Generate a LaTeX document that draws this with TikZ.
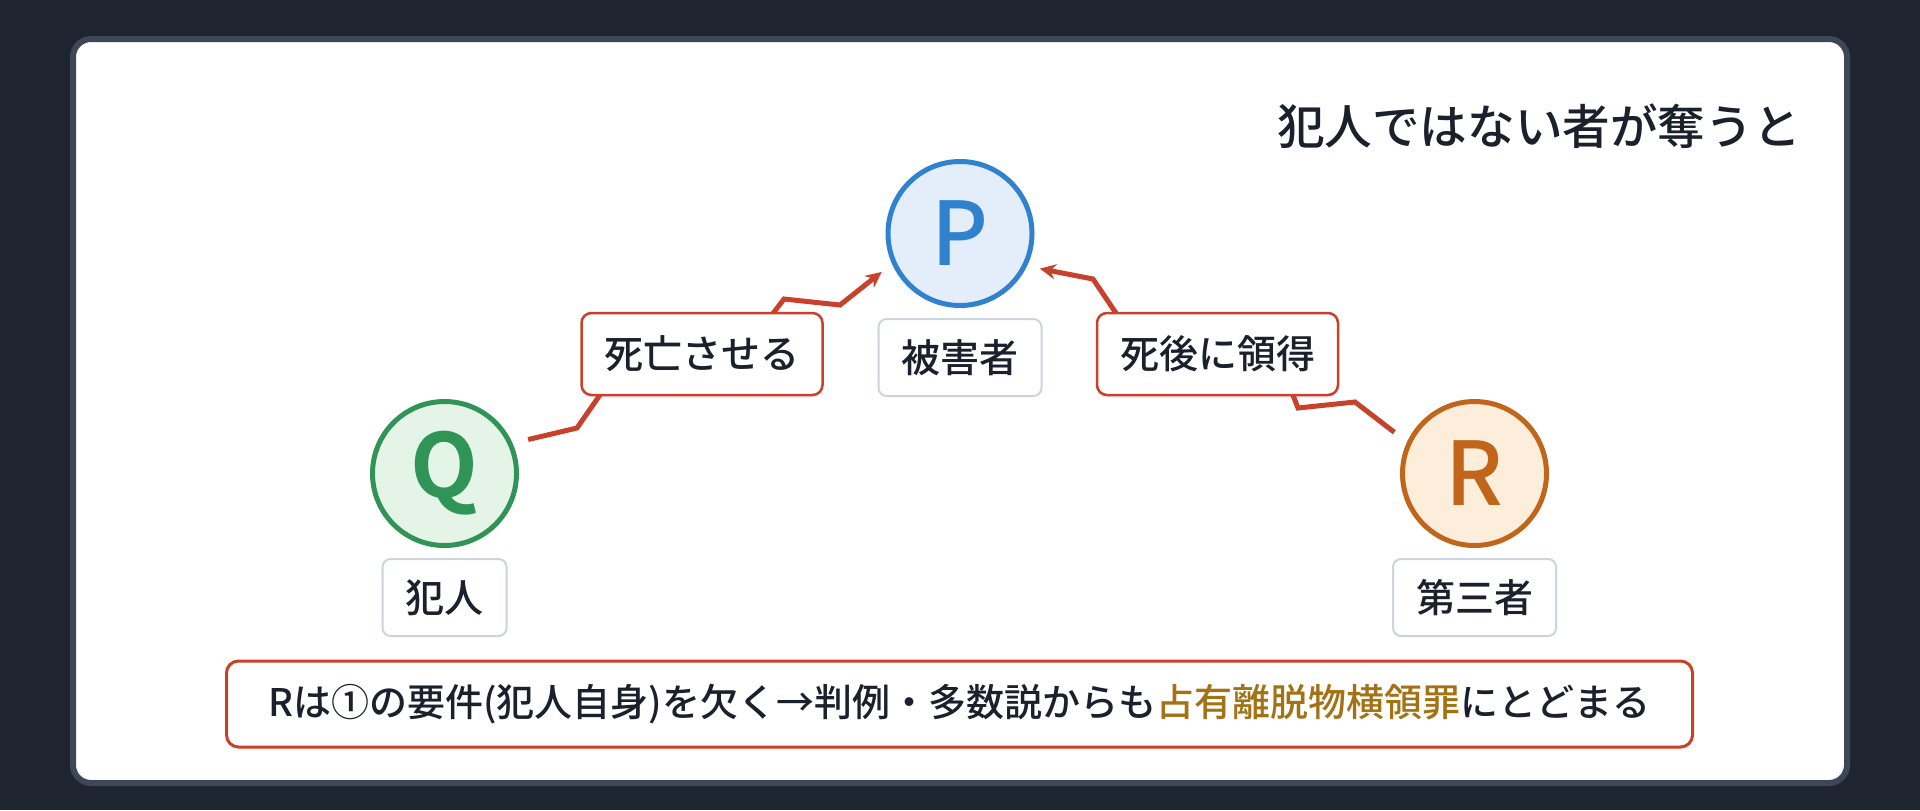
\documentclass[tikz,border=0pt]{standalone}
\usepackage{fontspec}
\setmainfont{Noto Sans CJK JP}[UprightFont=* Medium, BoldFont=* Bold]
\usetikzlibrary{positioning,arrows.meta,shadows}

\definecolor{backdrop}{HTML}{1E2530}
\definecolor{cardedge}{HTML}{3D4757}
\definecolor{ink}{HTML}{1A202C}
\definecolor{pblue}{HTML}{3182CE}
\definecolor{pbluefill}{HTML}{E3EEFA}
\definecolor{qgreen}{HTML}{2F9455}
\definecolor{qgreenfill}{HTML}{E4F5E8}
\definecolor{rorange}{HTML}{C0651A}
\definecolor{rorangefill}{HTML}{FDEEDC}
\definecolor{actred}{HTML}{C8412B}
\definecolor{rolegray}{HTML}{CBD5E0}
\definecolor{crime}{HTML}{A37215}

\tikzstyle{victim} = [circle, minimum size=72pt, inner sep=0pt, line width=2.5pt, draw=pblue, fill=pbluefill, text=pblue, font=\fontsize{44pt}{44pt}\selectfont, drop shadow={shadow xshift=0pt, shadow yshift=-1pt, opacity=0.08}]
\tikzstyle{culprit} = [circle, minimum size=72pt, inner sep=0pt, line width=2.5pt, draw=qgreen, fill=qgreenfill, text=qgreen, font=\bfseries\fontsize{44pt}{44pt}\selectfont, drop shadow={shadow xshift=0pt, shadow yshift=-1pt, opacity=0.08}]
\tikzstyle{outsider} = [circle, minimum size=72pt, inner sep=0pt, line width=2.5pt, draw=rorange, fill=rorangefill, text=rorange, font=\fontsize{44pt}{44pt}\selectfont, drop shadow={shadow xshift=0pt, shadow yshift=-1pt, opacity=0.08}]
\tikzstyle{role} = [rectangle, rounded corners=4pt, minimum height=38.5pt, inner xsep=11.5pt, text centered, draw=rolegray, line width=1pt, fill=white, text=ink, font=\fontsize{19.5pt}{20pt}\selectfont]
\tikzstyle{act} = [rectangle, rounded corners=5pt, minimum height=41pt, inner xsep=11.5pt, text centered, draw=actred, line width=1.25pt, fill=white, text=ink, font=\fontsize{19.5pt}{20pt}\selectfont, drop shadow={shadow xshift=0pt, shadow yshift=-1.5pt, opacity=0.1}]
\tikzstyle{note} = [rectangle, rounded corners=6pt, minimum width=733pt, minimum height=43pt, text centered, draw=actred, line width=1.5pt, fill=white, text=ink, font=\fontsize{19pt}{20pt}\selectfont, drop shadow={shadow xshift=0pt, shadow yshift=-1.5pt, opacity=0.1}]
\tikzstyle{heading} = [anchor=east, inner sep=0pt, text=ink, font=\fontsize{23.8pt}{26pt}\selectfont]
\tikzstyle{arrow} = [line width=2.5pt, ->, >={Stealth[length=8pt,width=7.5pt]}, draw=actred]

\begin{document}
\begin{tikzpicture}[x=0.5pt, y=-0.5pt, node distance=62pt]
	
	\fill [backdrop] (0,0) rectangle (1920,810);
	\useasboundingbox (0,0) rectangle (1920,810);
	\draw [cardedge, line width=3pt, fill=white, rounded corners=9pt] (73,39) rectangle (1847,783);
	
	\node (heading) [heading] at (1801,126) {犯人ではない者が奪うと};
	\node (P) [victim] at (960,233.5) {P};
	\node (Q) [culprit] at (444.5,473.5) {Q};
	\node (R) [outsider] at (1474.5,473.5) {R};
	
	\draw [arrow, shorten <=8pt, shorten >=6.5pt] (Q.24) -- (577,428) -- (611,379) -- (768,320) -- (784,299) -- (840,305) -- (P.204);
	\draw [arrow, shorten <=8pt, shorten >=6.5pt] (R.155) -- (1355,402) -- (1298,408) -- (1289,385) -- (1122,322) -- (1093,279) -- (P.334);
	
	\node (kill) [act] at (702,354) {死亡させる};
	\node (take) [act] at (1217.5,354) {死後に領得};
	\node (Plabel) [role, below of=P] {被害者};
	\node (Qlabel) [role, below of=Q] {犯人};
	\node (Rlabel) [role, below of=R] {第三者};
	\node (verdict) [note] at (959.5,704) {Rは①の要件(犯人自身)を欠く→判例・多数説からも\textcolor{crime}{占有離脱物横領罪}にとどまる};
	
\end{tikzpicture}
\end{document}
